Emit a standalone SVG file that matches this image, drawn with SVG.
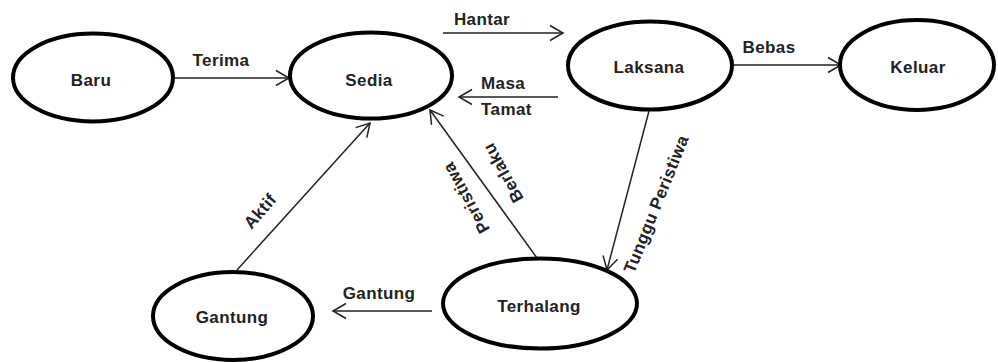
<svg xmlns="http://www.w3.org/2000/svg" width="998" height="362" viewBox="0 0 998 362">
<style>
.node{fill:#fff;stroke:#000;stroke-width:4}
.t{font-family:"Liberation Sans",Arial,sans-serif;font-size:17px;font-weight:bold;fill:#222;letter-spacing:0.4px}
.c{text-anchor:middle}
.edge{stroke:#222;stroke-width:1.5;fill:none;marker-end:url(#arr)}
</style>
<defs>
<marker id="arr" markerUnits="userSpaceOnUse" markerWidth="16" markerHeight="18" refX="13" refY="7.5" orient="auto" overflow="visible">
<path d="M0,0 L13,7.5 L0,15" fill="none" stroke="#222" stroke-width="1.5"/>
</marker>
</defs>
<rect width="998" height="362" fill="#fff"/>
<g id="connectors">
<line class="edge" x1="173" y1="78" x2="289" y2="78"/>
<line class="edge" x1="443" y1="33" x2="563" y2="33"/>
<line class="edge" x1="558" y1="97" x2="459" y2="97"/>
<line class="edge" x1="731" y1="65" x2="841" y2="65"/>
<line class="edge" x1="649" y1="111" x2="607" y2="270"/>
<line class="edge" x1="537" y1="258" x2="430" y2="110"/>
<line class="edge" x1="237" y1="270" x2="370" y2="123"/>
<line class="edge" x1="432" y1="311" x2="333" y2="311"/>
<text class="t c" x="221" y="66">Terima</text>
<text class="t c" x="482" y="25">Hantar</text>
<text class="t" x="481" y="89">Masa</text>
<text class="t" x="481" y="115">Tamat</text>
<text class="t c" x="769" y="53">Bebas</text>
<text class="t c" x="379" y="299">Gantung</text>
<text class="t c" transform="translate(260,211) rotate(-49)" y="6">Aktif</text>
<text class="t c" transform="translate(656,204) rotate(-68)" y="6">Tunggu Peristiwa</text>
<text class="t c" transform="translate(466,198) rotate(-119)" y="6">Peristiwa</text>
<text class="t c" transform="translate(503,173) rotate(-119)" y="6">Berlaku</text>
</g>
<g id="baru"><ellipse class="node" cx="93" cy="77.5" rx="80" ry="44"/><text class="t c" x="91" y="86">Baru</text></g>
<g id="sedia"><ellipse class="node" cx="371" cy="75.5" rx="81" ry="43"/><text class="t c" x="369" y="86">Sedia</text></g>
<g id="laksana"><ellipse class="node" cx="650" cy="65.5" rx="82" ry="44"/><text class="t c" x="649" y="73">Laksana</text></g>
<g id="keluar"><ellipse class="node" cx="917" cy="65" rx="77" ry="45"/><text class="t c" x="918" y="73">Keluar</text></g>
<g id="gantung"><ellipse class="node" cx="233" cy="316" rx="80" ry="44"/><text class="t c" x="232" y="323">Gantung</text></g>
<g id="terhalang"><ellipse class="node" cx="540" cy="303.5" rx="97" ry="45"/><text class="t c" x="539" y="312">Terhalang</text></g>
</svg>
